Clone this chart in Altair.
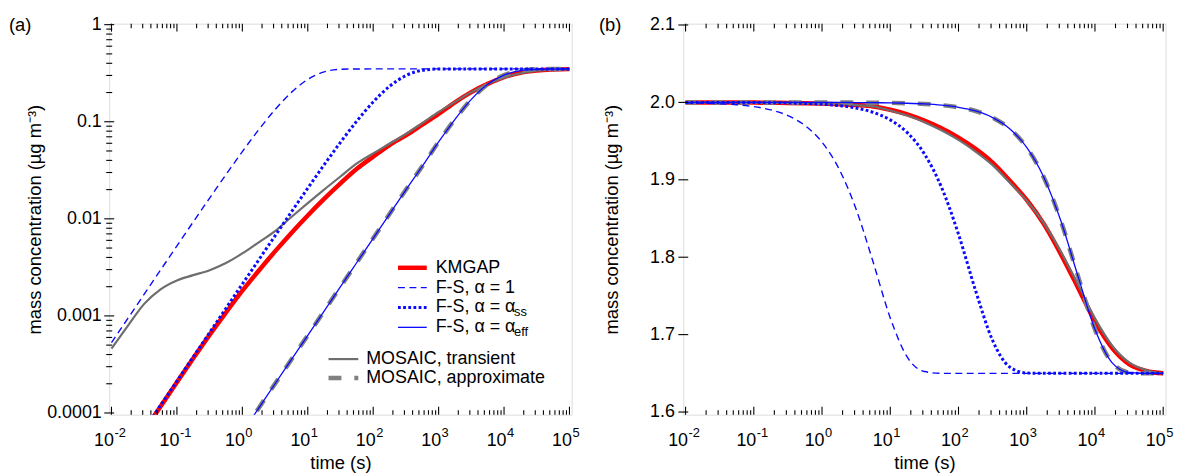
import altair as alt
import pandas as pd

FONT = "Liberation Sans"
N = None

# time grid (s), quarter-decade steps from 1e-2 to 1e5
TIME = [0.01, 0.01778, 0.03162, 0.05623, 0.1, 0.1778, 0.3162, 0.5623, 1, 1.778, 3.162, 5.623,
        10, 17.78, 31.62, 56.23, 100, 177.8, 316.2, 562.3, 1000, 1778, 3162, 5623,
        10000, 17780, 31620, 56230, 100000]

# ---- panel (a): condensation, mass concentration (ug m-3) ----
A_KMGAP = [N, N, 6.56e-5, 1.167e-4, 2.075e-4, 3.66e-4, 6.38e-4, 1.084e-3, 1.82e-3, 2.92e-3,
           4.62e-3, 7.16e-3, 0.01084, 0.01603, 0.02317, 0.03273, 0.04365, 0.05754, 0.07244,
           0.09333, 0.1202, 0.1585, 0.2018, 0.2455, 0.2884, 0.3199, 0.3373, 0.3451, 0.3483]
A_FS_1 = [5.30e-4, 9.41e-4, 1.673e-3, 2.97e-3, 5.26e-3, 9.30e-3, 0.01637, 0.02858, 0.0492,
          0.0827, 0.1332, 0.2007, 0.2731, 0.3263, 0.3471, 0.3499, 0.35, 0.35, 0.35, 0.35,
          0.35, 0.35, 0.35, 0.35, 0.35, 0.35, 0.35, 0.35, 0.35]
A_FS_SS = [N, N, 6.74e-5, 1.20e-4, 2.13e-4, 3.79e-4, 6.74e-4, 1.20e-3, 2.13e-3, 3.77e-3,
           6.68e-3, 0.0118, 0.0207, 0.0360, 0.0614, 0.1016, 0.1598, 0.2316, 0.2991, 0.3387,
           0.3492, 0.35, 0.35, 0.35, 0.35, 0.35, 0.35, 0.35, 0.35]
A_FS_EFF = [N, N, N, N, N, N, N, N, 6.3e-5, 1.12e-4, 2.0e-4, 3.55e-4, 6.3e-4, 1.12e-3,
            2.0e-3, 3.55e-3, 6.3e-3, 0.0112, 0.0199, 0.0348, 0.062, 0.106, 0.170, 0.243,
            0.302, 0.336, 0.347, 0.349, 0.35]
A_MOS_T = [4.6e-4, 7.9e-4, 1.33e-3, 1.88e-3, 2.32e-3, 2.63e-3, 2.96e-3, 3.5e-3, 4.4e-3,
           5.73e-3, 7.48e-3, 0.01045, 0.0145, 0.020, 0.0273, 0.0372, 0.0473, 0.0593, 0.0748,
           0.097, 0.126, 0.160, 0.202, 0.245, 0.285, 0.316, 0.335, 0.344, 0.347]
A_MOS_A = [N, N, N, N, N, N, N, N, 6.3e-5, 1.12e-4, 2.0e-4, 3.55e-4, 6.3e-4, 1.12e-3,
           2.0e-3, 3.55e-3, 6.3e-3, 0.0112, 0.0199, 0.0348, 0.062, 0.106, 0.170, 0.243,
           0.302, 0.336, 0.347, 0.349, 0.35]

# ---- panel (b): evaporation ----
B_KMGAP = [2.0, 2.0, 2.0, 1.9999, 1.9998, 1.9996, 1.9993, 1.9989, 1.9984, 1.9976, 1.9965,
           1.9948, 1.9905, 1.9845, 1.9765, 1.9665, 1.9545, 1.940, 1.9222, 1.899, 1.874,
           1.843, 1.804, 1.761, 1.717, 1.683, 1.662, 1.653, 1.650]
B_FS_1 = [1.9994, 1.9990, 1.9982, 1.9969, 1.9945, 1.9903, 1.9829, 1.9701, 1.9486, 1.9139,
          1.8619, 1.7934, 1.7216, 1.6708, 1.6523, 1.6500, 1.65, 1.65, 1.65, 1.65, 1.65, 1.65,
          1.65, 1.65, 1.65, 1.65, 1.65, 1.65, 1.65]
B_FS_SS = [2.0, 2.0, 1.9999, 1.9999, 1.9998, 1.9996, 1.9993, 1.9987, 1.9977, 1.9959, 1.9927,
           1.9871, 1.9774, 1.9609, 1.9335, 1.8906, 1.8297, 1.7570, 1.6925, 1.6582, 1.6504,
           1.65, 1.65, 1.65, 1.65, 1.65, 1.65, 1.65, 1.65]
B_FS_EFF = [2.0, 2.0, 2.0, 2.0, 2.0, 2.0, 2.0, 2.0, 2.0, 1.9999, 1.9998, 1.9996, 1.9994,
            1.9989, 1.9980, 1.9964, 1.9937, 1.9889, 1.9804, 1.9660, 1.9418, 1.9033, 1.8470,
            1.7759, 1.7068, 1.6638, 1.6511, 1.6500, 1.6500]
B_MOS_T = [2.0, 2.0, 2.0, 1.9999, 1.9998, 1.9996, 1.9993, 1.9989, 1.9984, 1.9976, 1.9965,
           1.9948, 1.9895, 1.983, 1.9745, 1.964, 1.9515, 1.9365, 1.919, 1.8965, 1.873, 1.844,
           1.807, 1.765, 1.721, 1.686, 1.664, 1.654, 1.650]
B_MOS_A = [2.0, 2.0, 2.0, 2.0, 2.0, 2.0, 2.0, 2.0, 2.0, 1.9999, 1.9998, 1.9996, 1.9994,
           1.9989, 1.9980, 1.9964, 1.9937, 1.9889, 1.9804, 1.9660, 1.9418, 1.9033, 1.8470,
           1.7759, 1.7068, 1.6638, 1.6511, 1.6500, 1.6500]

# ---- ticks / labels ----
DECADES = [0.01, 0.1, 1, 10, 100, 1000, 10000, 100000]
EXPONENTS = ["-2", "-1", "0", "1", "2", "3", "4", "5"]
MINOR_X = [m * d for d in DECADES[:-1] for m in range(2, 10)]
A_Y_MAJOR = [0.0001, 0.001, 0.01, 0.1, 1]
A_Y_MINOR = [m * d for d in [0.0001, 0.001, 0.01, 0.1] for m in range(2, 10)]
B_Y_MAJOR = [1.6, 1.7, 1.8, 1.9, 2.0, 2.1]

LEGEND_LABELS = ["KMGAP", "F-S, α = 1", "F-S, α = α", "F-S, α = α",
                 "MOSAIC, transient", "MOSAIC, approximate"]
LEGEND_SUBS = ["", "", "ss", "eff", "", ""]

RED = "#ff0000"
BLUE = "#0a0aff"
GRAY_T = "#6e6e6e"
GRAY_A = "#808080"
FS_TICK = 18
FS_TITLE = 18.5
FS_LEG = 18
FS_SUP = 13

STYLES = {
    "kmgap": dict(color=RED, strokeWidth=4.5),
    "mos_t": dict(color=GRAY_T, strokeWidth=2.2),
    "mos_a": dict(color=GRAY_A, strokeWidth=4.5, strokeDash=[13, 13]),
    "fs1": dict(color=BLUE, strokeWidth=1.4, strokeDash=[7, 4.5]),
    "fsss": dict(color=BLUE, strokeWidth=3, strokeDash=[2.8, 2.4]),
    "fseff": dict(color=BLUE, strokeWidth=1.3),
}

ONE = pd.DataFrame({"k": [0]})
W_A, W_B, H = 466, 486, 394


def panel(series, xscale, yscale, yaxis, W, y_major, y_minor, tag, tag_x, legend):
    xaxis = alt.Axis(title="time (s)", labels=False, ticks=False, domain=False, grid=False,
                     titlePadding=39, titleFontSize=FS_TITLE, titleFont=FONT,
                     titleFontWeight="normal", titleColor="black")

    def X(f):
        return alt.X(f"{f}:Q", scale=xscale, axis=xaxis)

    def Y(f):
        return alt.Y(f"{f}:Q", scale=yscale, axis=yaxis)

    layers = []
    for key, vals in series:
        df = pd.DataFrame({"t": TIME, "v": vals}).dropna()
        layers.append(alt.Chart(df).mark_line(clip=True, interpolate="monotone", **STYLES[key])
                      .encode(x=X("t"), y=Y("v")))

    xt = pd.DataFrame({"tick": DECADES, "exp": EXPONENTS})
    xm = pd.DataFrame({"tick": MINOR_X})
    for d, ln in ((xt, 8), (xm, 4.5)):
        layers.append(alt.Chart(d).mark_rule(color="black", strokeWidth=1.1)
                      .encode(x=X("tick"), y=alt.value(H), y2=alt.value(H - ln)))
        layers.append(alt.Chart(d).mark_rule(color="black", strokeWidth=1.1)
                      .encode(x=X("tick"), y=alt.value(0), y2=alt.value(ln)))
    yt = pd.DataFrame({"tick": y_major})
    layers.append(alt.Chart(yt).mark_rule(color="black", strokeWidth=1.1)
                  .encode(y=Y("tick"), x=alt.value(-5), x2=alt.value(5)))
    if y_minor:
        ym = pd.DataFrame({"tick": y_minor})
        layers.append(alt.Chart(ym).mark_rule(color="black", strokeWidth=1.1)
                      .encode(y=Y("tick"), x=alt.value(-3), x2=alt.value(3)))
    # x tick labels 10^n
    layers.append(alt.Chart(xt).mark_text(align="right", baseline="alphabetic",
                                          fontSize=FS_TICK, font=FONT, dx=2.5, color="black")
                  .encode(x=X("tick"), y=alt.value(H + 32), text=alt.value("10")))
    layers.append(alt.Chart(xt).mark_text(align="left", baseline="alphabetic", fontSize=FS_SUP,
                                          font=FONT, dx=3, color="black")
                  .encode(x=X("tick"), y=alt.value(H + 23), text="exp:N"))
    # panel tag
    layers.append(alt.Chart(ONE).mark_text(align="left", baseline="middle", fontSize=18.5,
                                           font=FONT, color="black")
                  .encode(x=alt.value(tag_x), y=alt.value(1), text=alt.value(tag)))
    if legend:
        keys = ["kmgap", "fs1", "fsss", "fseff", "mos_t", "mos_a"]
        rows_y = [246, 266, 286, 306, 338, 357]
        sym_x = [(291, 320)] * 4 + [(221, 251)] * 2
        txt_x = [329] * 4 + [259] * 2
        for k, lab, sub, yy, (x0, x1), tx in zip(keys, LEGEND_LABELS, LEGEND_SUBS, rows_y,
                                                 sym_x, txt_x):
            layers.append(alt.Chart(ONE).mark_rule(**STYLES[k])
                          .encode(x=alt.value(x0), x2=alt.value(x1), y=alt.value(yy)))
            layers.append(alt.Chart(ONE).mark_text(align="left", baseline="middle",
                                                   fontSize=FS_LEG, font=FONT, color="black")
                          .encode(x=alt.value(tx), y=alt.value(yy), text=alt.value(lab)))
            if sub:
                layers.append(alt.Chart(ONE).mark_text(align="left", baseline="middle",
                                                       fontSize=FS_SUP, font=FONT,
                                                       color="black")
                              .encode(x=alt.value(tx + 79), y=alt.value(yy + 5),
                                      text=alt.value(sub)))
    return alt.layer(*layers).properties(width=W, height=H)


axis_common = dict(ticks=False, domain=False, grid=False, labelFontSize=FS_TICK,
                   labelFont=FONT, titleFontSize=FS_TITLE, titleFont=FONT,
                   titleFontWeight="normal", labelColor="black", titleColor="black")

xs_a = alt.Scale(type="log", domain=[0.00923, 107980])
ys_a = alt.Scale(type="log", domain=[9.61e-5, 1.0238])
ya = alt.Axis(title="mass concentration (µg m⁻³)", values=A_Y_MAJOR, format="~f",
              labelPadding=8, titlePadding=2, **axis_common)
pa = panel([("kmgap", A_KMGAP), ("mos_t", A_MOS_T), ("mos_a", A_MOS_A), ("fs1", A_FS_1),
            ("fsss", A_FS_SS), ("fseff", A_FS_EFF)],
           xs_a, ys_a, ya, W_A, A_Y_MAJOR, A_Y_MINOR, "(a)", -101, True)

xs_b = alt.Scale(type="log", domain=[0.009259, 108360])
ys_b = alt.Scale(type="linear", domain=[1.5966, 2.1017], zero=False, nice=False)
yb = alt.Axis(title="mass concentration (µg m⁻³)", values=B_Y_MAJOR, format=".1f",
              labelPadding=9, titlePadding=28, **axis_common)
pb = panel([("kmgap", B_KMGAP), ("mos_t", B_MOS_T), ("mos_a", B_MOS_A), ("fs1", B_FS_1),
            ("fsss", B_FS_SS), ("fseff", B_FS_EFF)],
           xs_b, ys_b, yb, W_B, B_Y_MAJOR, None, "(b)", -85, False)

chart = (alt.hconcat(pa, pb, spacing=17.5)
         .properties(padding={"left": 0, "top": 5, "right": 0, "bottom": 0})
         .configure_view(stroke="black", strokeWidth=1.3)
         .configure(font=FONT))

chart.save("out.html", embed_options={"renderer": "svg", "actions": False})
